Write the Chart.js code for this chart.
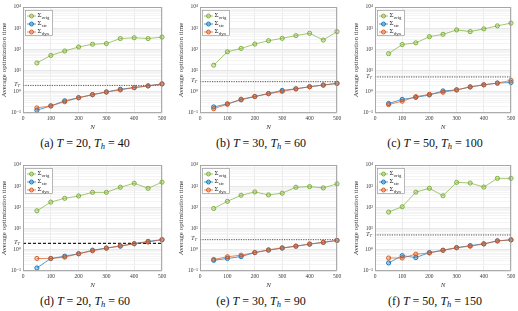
<!DOCTYPE html>
<html><head><meta charset="utf-8">
<script src="https://cdn.jsdelivr.net/npm/chart.js@4/dist/chart.umd.min.js"></script>
<style>
html,body{margin:0;padding:0;background:#fff;}
#wrap{position:relative;width:518px;height:311px;overflow:hidden;background:#fff;}
canvas{position:absolute;}
.cap{position:absolute;font-family:"Liberation Serif","DejaVu Serif",serif;font-size:12px;color:#111;white-space:nowrap;transform:translateX(-50%);line-height:12px;}
.cap sub{font-size:8.5px;vertical-align:-2px;line-height:0;}
</style></head><body><div id="wrap"></div>
<script>
// ---- data ----
const N = [50, 100, 150, 200, 250, 300, 350, 400, 450, 500];
const xTickValues = [0, 100, 200, 300, 400, 500];
const yTickLabels = ['10⁻¹', '10⁰', '10¹', '10²', '10³', '10⁴'];
const panelLetters = ['a', 'b', 'c', 'd', 'e', 'f'];
const horizonT = [20, 30, 50, 20, 30, 50];
const horizonTh = [40, 60, 100, 60, 90, 150];
const thresholdTT = [2, 3, 5, 2, 3, 5];
const seriesNames = ['orig', 'stc', 'dyn'];

const origA = [23, 52, 84, 130, 175, 188, 325, 354, 325, 380];
const stcA  = [0.135, 0.216, 0.376, 0.525, 0.73, 0.98, 1.32, 1.58, 1.9, 2.36];
const dynA  = [0.174, 0.216, 0.34, 0.525, 0.73, 0.98, 1.23, 1.58, 1.9, 2.36];

const origB = [18, 77, 111, 178, 257, 333, 447, 575, 276, 692];
const stcB  = [0.193, 0.27, 0.417, 0.6, 0.83, 1.16, 1.38, 1.73, 2.08, 2.5];
const dynB  = [0.16, 0.26, 0.45, 0.6, 0.81, 1.04, 1.38, 1.73, 2.08, 2.5];

const origC = [63, 170, 204, 398, 513, 832, 692, 933, 1288, 1738];
const stcC  = [0.28, 0.437, 0.545, 0.71, 1.1, 1.23, 1.7, 2.14, 2.57, 2.75];
const dynC  = [0.25, 0.36, 0.59, 0.76, 0.95, 1.23, 1.7, 2.14, 2.57, 3.47];

const origD = [69, 178, 269, 347, 513, 513, 891, 1380, 794, 1549];
const stcD  = [0.139, 0.39, 0.5, 0.65, 0.96, 1.2, 1.48, 1.94, 2.5, 3.0];
const dynD  = [0.39, 0.39, 0.45, 0.65, 0.89, 1.2, 1.55, 1.94, 2.32, 3.0];

const origE = [89, 193, 373, 537, 388, 468, 891, 955, 832, 1288];
const stcE  = [0.32, 0.39, 0.48, 0.74, 0.96, 1.2, 1.48, 1.86, 2.24, 2.77];
const dynE  = [0.35, 0.47, 0.56, 0.74, 1.0, 1.24, 1.48, 1.86, 2.24, 2.77];

const origF = [60, 107, 525, 794, 355, 1514, 1413, 912, 2344, 2344];
const stcF  = [0.24, 0.53, 0.43, 0.74, 0.95, 1.26, 1.58, 1.9, 2.63, 2.94];
const dynF  = [0.41, 0.41, 0.62, 0.71, 0.95, 1.26, 1.47, 1.9, 2.63, 2.94];

const panelSeries = [
  [origA, stcA, dynA], [origB, stcB, dynB], [origC, stcC, dynC],
  [origD, stcD, dynD], [origE, stcE, dynE], [origF, stcF, dynF]
];

// ---- styling / layout ----
const lineColors = ['rgba(119,172,48,0.75)', 'rgba(0,114,189,0.75)', 'rgba(217,83,25,0.75)'];
const markColors = ['#77AC30', '#0072BD', '#D95319'];
const fillColors = ['rgba(119,172,48,0.25)', 'rgba(0,114,189,0.3)', 'rgba(217,83,25,0.3)'];
const colLeft = [0, 177, 352];
const colWidth = [170, 168, 166];
const rowTop = [0, 158];
const canvasH = 135;
const yAxisW = 23;
const xAxisH = 22;
const padTop = 7;
const padRight = [8, 8, 7];
const SERIF = '"Liberation Serif", "DejaVu Serif", serif';
const TEXT = '#3a3a3a';

function isMajor(v) {
  const l = Math.log10(v);
  return Math.abs(l - Math.round(l)) < 1e-9;
}

const framePlugin = {
  id: 'frame',
  beforeDatasetsDraw(chart, args, opts) {
    const ctx = chart.ctx, ca = chart.chartArea, y = chart.scales.y;
    const py = y.getPixelForValue(opts.tt);
    ctx.save();
    ctx.strokeStyle = opts.bold ? '#222' : '#444';
    ctx.lineWidth = opts.bold ? 1.2 : 0.9;
    ctx.setLineDash(opts.bold ? [3, 2] : [1.2, 1.2]);
    ctx.beginPath();
    ctx.moveTo(ca.left, py); ctx.lineTo(ca.right, py);
    ctx.stroke();
    ctx.restore();
  },
  afterDraw(chart, args, opts) {
    const ctx = chart.ctx, ca = chart.chartArea, y = chart.scales.y;
    ctx.save();
    ctx.strokeStyle = '#9a9a9a';
    ctx.lineWidth = 0.8;
    ctx.strokeRect(ca.left + 0.5, ca.top + 0.5, ca.right - ca.left - 1, ca.bottom - ca.top - 1);
    const py = y.getPixelForValue(opts.tt);
    ctx.fillStyle = TEXT;
    ctx.textBaseline = 'middle';
    ctx.textAlign = 'left';
    ctx.font = 'italic 6.5px ' + SERIF;
    const w1 = ctx.measureText('T').width;
    ctx.font = 'italic 4.5px ' + SERIF;
    const w2 = ctx.measureText('T').width;
    const x0 = ca.left - 3 - w1 - w2;
    ctx.font = 'italic 6.5px ' + SERIF;
    ctx.fillText('T', x0, py - 1);
    ctx.font = 'italic 4.5px ' + SERIF;
    ctx.fillText('T', x0 + w1, py + 0.5);
    const lx = ca.left + 2, ly = ca.top + 3, lw = 28, lh = 26;
    ctx.fillStyle = '#fff';
    ctx.fillRect(lx, ly, lw, lh);
    ctx.strokeStyle = '#999';
    ctx.lineWidth = 0.7;
    ctx.strokeRect(lx + 0.5, ly + 0.5, lw - 1, lh - 1);
    chart.data.datasets.forEach((ds, i) => {
      const ry = ly + 6 + i * 8;
      ctx.strokeStyle = lineColors[i];
      ctx.lineWidth = 0.9;
      ctx.beginPath(); ctx.moveTo(lx + 2, ry); ctx.lineTo(lx + 11, ry); ctx.stroke();
      ctx.fillStyle = fillColors[i];
      ctx.strokeStyle = markColors[i];
      ctx.beginPath(); ctx.arc(lx + 6.5, ry, 2, 0, Math.PI * 2); ctx.fill(); ctx.stroke();
      ctx.fillStyle = '#222';
      ctx.textAlign = 'left';
      ctx.textBaseline = 'middle';
      ctx.font = '7px ' + SERIF;
      ctx.fillText('Σ', lx + 12.5, ry - 0.5);
      const sw = ctx.measureText('Σ').width;
      ctx.font = '4.6px ' + SERIF;
      ctx.fillText(ds.label, lx + 12.5 + sw + 0.3, ry + 1.6);
    });
    ctx.restore();
  }
};

const wrap = document.getElementById('wrap');

for (let p = 0; p < 6; p++) {
  const col = p % 3, row = Math.floor(p / 3);
  const cv = document.createElement('canvas');
  cv.width = colWidth[col];
  cv.height = canvasH;
  cv.style.left = colLeft[col] + 'px';
  cv.style.top = rowTop[row] + 'px';
  cv.style.width = colWidth[col] + 'px';
  cv.style.height = canvasH + 'px';
  wrap.appendChild(cv);

  const cap = document.createElement('div');
  cap.className = 'cap';
  cap.style.left = (colLeft[col] + colWidth[col] / 2) + 'px';
  cap.style.top = (rowTop[row] + 137) + 'px';
  cap.innerHTML = '(' + panelLetters[p] + ') <i>T</i> = ' + horizonT[p] + ', <i>T</i><sub><i>h</i></sub> = ' + horizonTh[p];
  wrap.appendChild(cap);

  const series = panelSeries[p];
  const datasets = series.map((vals, i) => ({
    label: seriesNames[i],
    data: N.map((n, k) => ({ x: n, y: vals[k] })),
    borderColor: lineColors[i],
    borderWidth: 0.9,
    pointRadius: 2.1,
    pointBorderWidth: 0.9,
    pointBorderColor: markColors[i],
    pointBackgroundColor: fillColors[i],
    tension: 0,
    clip: false,
    order: 3 - i
  }));

  new Chart(cv, {
    type: 'line',
    data: { datasets },
    plugins: [framePlugin],
    options: {
      responsive: false,
      animation: false,
      devicePixelRatio: 1,
      layout: { padding: { top: padTop, right: padRight[col], left: 0, bottom: 0 } },
      plugins: {
        legend: { display: false },
        tooltip: { enabled: false },
        frame: { tt: thresholdTT[p], bold: p === 3 }
      },
      scales: {
        x: {
          type: 'linear',
          min: 0, max: 500,
          afterBuildTicks(scale) { scale.ticks = xTickValues.map(v => ({ value: v })); },
          afterFit(scale) { scale.height = xAxisH; },
          grid: { color: '#e3e3e3', lineWidth: 0.7, drawTicks: false },
          border: { display: false },
          ticks: { padding: 2, color: TEXT, font: { family: SERIF, size: 5.5 }, maxRotation: 0, autoSkip: false },
          title: { display: true, text: 'N', color: TEXT, font: { family: SERIF, size: 7, style: 'italic' }, padding: { top: 0, bottom: 4 } }
        },
        y: {
          type: 'logarithmic',
          min: 0.1, max: 10000,
          afterBuildTicks(scale) {
            const t = [];
            for (let e = -1; e <= 3; e++) for (let m = 1; m <= 9; m++) t.push({ value: +(m * Math.pow(10, e)).toPrecision(6), major: m === 1 });
            t.push({ value: 10000, major: true });
            scale.ticks = t;
          },
          afterFit(scale) { scale.width = yAxisW; },
          grid: {
            drawTicks: false,
            lineWidth: 0.7,
            color: (c) => (c.tick && isMajor(c.tick.value)) ? '#dcdcdc' : '#efefef'
          },
          border: { display: false },
          ticks: {
            autoSkip: false,
            padding: 2,
            color: TEXT,
            font: { family: SERIF, size: 5.5 },
            callback: (v) => isMajor(v) ? yTickLabels[Math.round(Math.log10(v)) + 1] : ''
          },
          title: { display: true, text: 'Average optimization time', color: TEXT, font: { family: SERIF, size: 7 }, padding: { top: 0, bottom: 0 } }
        }
      }
    }
  });
}
</script>
</body></html>
